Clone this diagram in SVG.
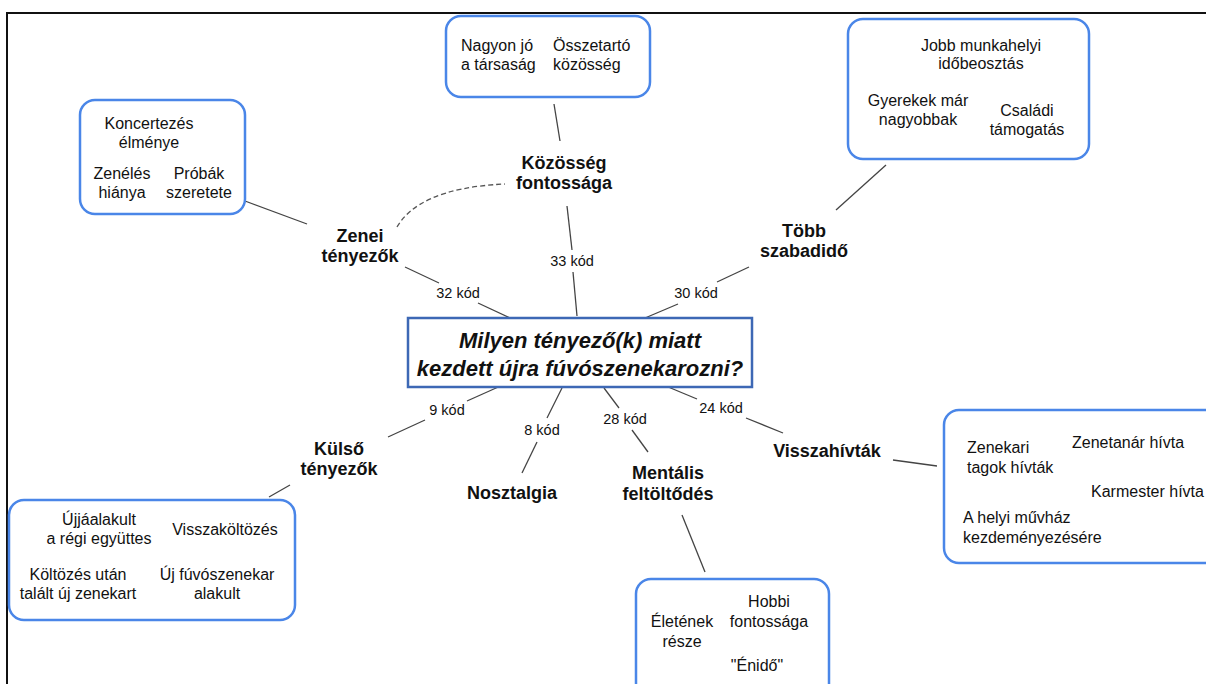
<svg xmlns="http://www.w3.org/2000/svg" width="1206" height="684" viewBox="0 0 1206 684">
  <style>
    .frame { fill: none; stroke: #111; stroke-width: 2; }
    .box { fill: #fff; stroke: #4a86e8; stroke-width: 2.5; }
    .center { fill: #fff; stroke: #3d68b5; stroke-width: 2.5; }
    .link { fill: none; stroke: #444; stroke-width: 1.3; }
    .dash { fill: none; stroke: #555; stroke-width: 1.3; stroke-dasharray: 5 3; }
    text { font-family: "Liberation Sans", Arial, sans-serif; fill: #111; }
    .item { font-size: 16px; }
    .head { font-size: 18px; font-weight: bold; }
    .code { font-size: 14.5px; }
    .q { font-size: 22px; font-weight: bold; font-style: italic; }
    .m { text-anchor: middle; }
  </style>
  <rect width="1206" height="684" fill="#fff"/>
  <!-- page frame -->
  <path class="frame" d="M7,684 V13 H1206"/>

  <g id="connectors">
    <line class="link" x1="245" y1="201" x2="307" y2="224"/>
    <line class="link" x1="405" y1="267" x2="439" y2="283"/>
    <line class="link" x1="478" y1="303" x2="510" y2="318"/>
    <path class="dash" d="M397,227 C410,205 440,187 505,184"/>
    <line class="link" x1="554" y1="104" x2="560" y2="141"/>
    <line class="link" x1="567" y1="206" x2="572" y2="250"/>
    <line class="link" x1="573" y1="272" x2="577" y2="316"/>
    <line class="link" x1="886" y1="165" x2="836" y2="210"/>
    <line class="link" x1="749" y1="267" x2="717" y2="282"/>
    <line class="link" x1="678" y1="304" x2="645" y2="318"/>
    <line class="link" x1="505" y1="384" x2="467" y2="401"/>
    <line class="link" x1="425" y1="420" x2="388" y2="437"/>
    <line class="link" x1="290" y1="485" x2="269" y2="497"/>
    <line class="link" x1="562" y1="388" x2="547" y2="418"/>
    <line class="link" x1="537" y1="442" x2="522" y2="473"/>
    <line class="link" x1="604" y1="388" x2="619" y2="408"/>
    <line class="link" x1="632" y1="430" x2="648" y2="452"/>
    <line class="link" x1="682" y1="515" x2="705" y2="572"/>
    <line class="link" x1="661" y1="384" x2="697" y2="399"/>
    <line class="link" x1="746" y1="418" x2="783" y2="433"/>
    <line class="link" x1="893" y1="460" x2="937" y2="466"/>
  </g>

  <g id="code-labels" class="code m">
    <text x="458" y="298">32 kód</text>
    <text x="572" y="266">33 kód</text>
    <text x="696" y="298">30 kód</text>
    <text x="447" y="415">9 kód</text>
    <text x="542" y="435">8 kód</text>
    <text x="625" y="424">28 kód</text>
    <text x="721" y="413">24 kód</text>
  </g>

  <g id="question">
    <rect class="center" x="408" y="318" width="344" height="69"/>
    <text class="q m" x="580" y="348">Milyen tényező(k) miatt</text>
    <text class="q m" x="580" y="376">kezdett újra fúvószenekarozni?</text>
  </g>

  <g id="zenei">
    <text class="head m" x="360" y="242">Zenei</text>
    <text class="head m" x="360" y="262">tényezők</text>
  </g>
  <g id="zenei-box">
    <rect class="box" x="80" y="100" width="165" height="114" rx="15"/>
    <g class="item m">
      <text x="149" y="129">Koncertezés</text>
      <text x="149" y="148">élménye</text>
      <text x="122" y="179">Zenélés</text>
      <text x="122" y="198">hiánya</text>
      <text x="199" y="179">Próbák</text>
      <text x="199" y="198">szeretete</text>
    </g>
  </g>

  <g id="kozosseg">
    <text class="head m" x="564" y="169">Közösség</text>
    <text class="head m" x="564" y="189">fontossága</text>
  </g>
  <g id="kozosseg-box">
    <rect class="box" x="446" y="16" width="204" height="81" rx="15"/>
    <g class="item">
      <text x="461" y="51">Nagyon jó</text>
      <text x="461" y="70">a társaság</text>
      <text x="553" y="51">Összetartó</text>
      <text x="553" y="70">közösség</text>
    </g>
  </g>

  <g id="tobb">
    <text class="head m" x="804" y="237">Több</text>
    <text class="head m" x="804" y="257">szabadidő</text>
  </g>
  <g id="tobb-box">
    <rect class="box" x="848" y="19" width="241" height="140" rx="15"/>
    <g class="item m">
      <text x="981" y="51">Jobb munkahelyi</text>
      <text x="981" y="69">időbeosztás</text>
      <text x="918" y="106">Gyerekek már</text>
      <text x="918" y="125">nagyobbak</text>
      <text x="1027" y="116">Családi</text>
      <text x="1027" y="135">támogatás</text>
    </g>
  </g>

  <g id="kulso">
    <text class="head m" x="339" y="455">Külső</text>
    <text class="head m" x="339" y="475">tényezők</text>
  </g>
  <g id="kulso-box">
    <rect class="box" x="9" y="500" width="286" height="120" rx="15"/>
    <g class="item m">
      <text x="99" y="525">Újjáalakult</text>
      <text x="99" y="544">a régi együttes</text>
      <text x="225" y="535">Visszaköltözés</text>
      <text x="78" y="580">Költözés után</text>
      <text x="78" y="599">talált új zenekart</text>
      <text x="217" y="580">Új fúvószenekar</text>
      <text x="217" y="599">alakult</text>
    </g>
  </g>

  <g id="nosztalgia">
    <text class="head m" x="512" y="499">Nosztalgia</text>
  </g>

  <g id="mentalis">
    <text class="head m" x="668" y="479">Mentális</text>
    <text class="head m" x="668" y="500">feltöltődés</text>
  </g>
  <g id="mentalis-box">
    <rect class="box" x="636" y="579" width="193" height="130" rx="15"/>
    <g class="item m">
      <text x="769" y="607">Hobbi</text>
      <text x="769" y="627">fontossága</text>
      <text x="682" y="627">Életének</text>
      <text x="682" y="647">része</text>
      <text x="757" y="671">"Énidő"</text>
    </g>
  </g>

  <g id="visszahivtak">
    <text class="head m" x="827" y="457">Visszahívták</text>
  </g>
  <g id="visszahivtak-box">
    <rect class="box" x="944" y="410" width="300" height="153" rx="15"/>
    <g class="item">
      <text x="967" y="453">Zenekari</text>
      <text x="967" y="473">tagok hívták</text>
      <text x="1072" y="448">Zenetanár hívta</text>
      <text x="1091" y="497">Karmester hívta</text>
      <text x="963" y="523">A helyi művház</text>
      <text x="963" y="543">kezdeményezésére</text>
    </g>
  </g>
</svg>
